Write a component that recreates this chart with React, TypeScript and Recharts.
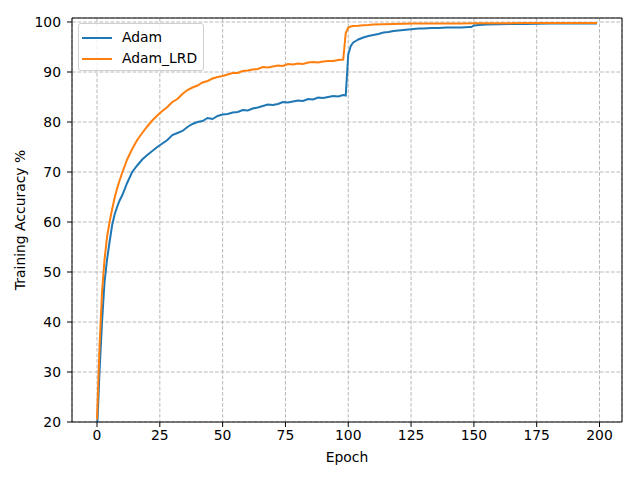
import { LineChart, Line, XAxis, YAxis, CartesianGrid, Legend } from 'recharts';

const adamEpochs = [
  0, 1, 2, 3, 4, 5, 6, 7, 8, 9, 10, 12, 14, 16, 18, 20, 22, 24, 26, 28, 30, 32, 34, 36, 38, 40,
  42, 44, 46, 48, 50, 52, 54, 56, 58, 60, 62, 64, 66, 68, 70, 72, 74, 76, 78, 80, 82, 84, 86, 88,
  90, 92, 94, 96, 98, 99, 100, 101, 102, 103, 104, 106, 108, 110, 112, 114, 116, 118, 120, 122,
  124, 126, 128, 130, 133, 136, 139, 142, 145, 148, 149, 150, 152, 155, 160, 165, 170, 175, 180,
  185, 190, 195, 199,
];
const adamAcc = [
  18, 30, 40, 48, 52.5, 56, 59.3, 61.5, 63, 64.3, 65.3, 67.8, 70.0, 71.3, 72.5, 73.4, 74.2, 75.0,
  75.7, 76.4, 77.4, 77.8, 78.2, 79.0, 79.6, 80.0, 80.2, 80.8, 80.6, 81.2, 81.5, 81.6, 81.9, 82.0,
  82.4, 82.3, 82.7, 82.9, 83.2, 83.5, 83.4, 83.6, 84.0, 83.9, 84.1, 84.3, 84.2, 84.6, 84.5, 84.9,
  84.8, 85.0, 85.2, 85.1, 85.4, 85.3, 93.5, 95.2, 95.9, 96.2, 96.5, 96.9, 97.2, 97.4, 97.6, 97.9,
  98.0, 98.2, 98.3, 98.4, 98.5, 98.6, 98.7, 98.7, 98.8, 98.8, 98.9, 98.9, 98.9, 99.0, 99.0, 99.3,
  99.4, 99.5, 99.55, 99.6, 99.6, 99.65, 99.7, 99.7, 99.7, 99.7, 99.7,
];

const lrdEpochs = [
  0, 1, 2, 3, 4, 5, 6, 7, 8, 9, 10, 12, 14, 16, 18, 20, 22, 24, 26, 28, 30, 32, 34, 36, 38, 40,
  42, 44, 46, 48, 50, 52, 54, 56, 58, 60, 62, 64, 66, 68, 70, 72, 74, 76, 78, 80, 82, 84, 86, 88,
  90, 92, 94, 96, 98, 99, 100, 101, 102, 104, 106, 108, 110, 114, 118, 122, 126, 130, 135, 140,
  145, 150, 155, 160, 170, 180, 190, 199,
];
const lrdAcc = [
  20.5, 35, 46, 52.5, 57, 60, 62.5, 64.8, 66.7, 68.3, 69.8, 72.5, 74.6, 76.4, 77.8, 79.1, 80.3,
  81.3, 82.2, 83.0, 84.0, 84.6, 85.6, 86.4, 86.9, 87.3, 87.9, 88.2, 88.7, 89.0, 89.2, 89.5, 89.8,
  89.8, 90.2, 90.3, 90.5, 90.6, 91.0, 90.9, 91.1, 91.3, 91.2, 91.6, 91.5, 91.7, 91.6, 91.9, 92.0,
  91.9, 92.1, 92.2, 92.2, 92.4, 92.5, 97.8, 98.9, 99.1, 99.2, 99.25, 99.35, 99.4, 99.5, 99.55,
  99.6, 99.65, 99.7, 99.7, 99.7, 99.72, 99.72, 99.75, 99.75, 99.75, 99.78, 99.78, 99.8, 99.8,
];

const xTicks = [0, 25, 50, 75, 100, 125, 150, 175, 200];
const yTicks = [20, 30, 40, 50, 60, 70, 80, 90, 100];

const adamRows = adamEpochs.map((epoch, i) => ({ epoch, acc: adamAcc[i] }));
const lrdRows = lrdEpochs.map((epoch, i) => ({ epoch, acc: lrdAcc[i] }));

const FONT = '"DejaVu Sans", sans-serif';
const tickStyle = { fontSize: 13.9, fill: '#000', fontFamily: FONT };

function LegendBox() {
  const items = [
    { name: 'Adam', color: '#1f77b4', top: 14 },
    { name: 'Adam_LRD', color: '#ff7f0e', top: 35 },
  ];
  return (
    <div style={{ position: 'relative', width: 126, height: 48, boxSizing: 'border-box', border: '1px solid #d0d0d0', borderRadius: 3, background: 'rgba(255,255,255,0.8)' }}>
      {items.map((it) => (
        <div key={it.name}>
          <div style={{ position: 'absolute', left: 3, top: it.top - 1, width: 30, height: 2, background: it.color }} />
          <span style={{ position: 'absolute', left: 43, top: it.top - 9, fontFamily: FONT, fontSize: 13.9, lineHeight: '16px', color: '#000', whiteSpace: 'nowrap' }}>{it.name}</span>
        </div>
      ))}
    </div>
  );
}

export default function App() {
  return (
    <div style={{ position: 'absolute', left: 0, top: 0, width: 640, height: 480, background: '#fff' }}>
      <LineChart width={640} height={480} margin={{ top: 17, right: 17, bottom: 0, left: 0 }}>
        <CartesianGrid stroke="#b0b0b0" strokeDasharray="3.7 1.8" strokeWidth={0.9} />
        <XAxis
          type="number"
          dataKey="epoch"
          domain={[-9.95, 208.95]}
          ticks={xTicks}
          allowDataOverflow
          height={58}
          tick={tickStyle}
          tickSize={5}
          tickMargin={3}
          stroke="#000"
          label={{ value: 'Epoch', position: 'insideBottom', offset: 18, style: { fontSize: 13.9, fill: '#000', fontFamily: FONT } }}
        />
        <XAxis xAxisId="top" orientation="top" type="number" domain={[-9.95, 208.95]} height={1} tick={false} tickLine={false} stroke="#000" />
        <YAxis
          type="number"
          domain={[20, 100.8]}
          ticks={yTicks}
          allowDataOverflow
          width={72}
          tick={tickStyle}
          tickSize={5}
          tickMargin={6}
          stroke="#000"
          label={{ value: 'Training Accuracy %', angle: -90, position: 'insideLeft', offset: 20, style: { textAnchor: 'middle', fontSize: 13.9, fill: '#000', fontFamily: FONT } }}
        />
        <YAxis yAxisId="right" orientation="right" type="number" domain={[20, 100.8]} width={1} tick={false} tickLine={false} stroke="#000" />
        <Legend
          layout="vertical"
          align="center"
          verticalAlign="middle"
          content={() => <LegendBox />}
          wrapperStyle={{ left: 78, top: 23, width: 126, height: 48 }}
        />
        <Line data={adamRows} dataKey="acc" name="Adam" stroke="#1f77b4" strokeWidth={2} dot={false} type="linear" isAnimationActive={false} />
        <Line data={lrdRows} dataKey="acc" name="Adam_LRD" stroke="#ff7f0e" strokeWidth={2} dot={false} type="linear" isAnimationActive={false} />
      </LineChart>
    </div>
  );
}
